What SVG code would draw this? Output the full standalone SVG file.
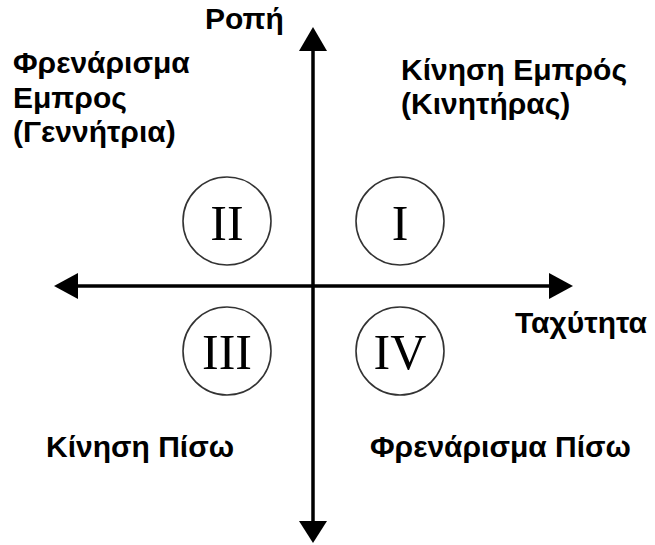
<svg xmlns="http://www.w3.org/2000/svg" width="655" height="545" viewBox="0 0 655 545">
<style>
.lbl{font-family:"Liberation Sans",Arial,sans-serif;font-weight:bold;font-size:30px;fill:#000}
.num{font-family:"Liberation Serif","Times New Roman",serif;font-size:50px;fill:#000;text-anchor:middle}
.circ{fill:none;stroke:#333;stroke-width:1.6}
.axis{stroke:#000;stroke-width:3.5;fill:none}
</style>
<rect width="655" height="545" fill="#fff"/>
<g id="connectors">
<line class="axis" x1="313" y1="48" x2="313" y2="524"/>
<line class="axis" x1="76" y1="286" x2="551" y2="286"/>
<polygon points="313,27 299,51 327,51" fill="#000"/>
<polygon points="313,543 299,521 327,521" fill="#000"/>
<polygon points="54,286 78,273 78,299" fill="#000"/>
<polygon points="573,286 549,273 549,299" fill="#000"/>
</g>
<g id="q2"><circle class="circ" cx="227" cy="221" r="44"/><text class="num" x="227" y="240">II</text></g>
<g id="q1"><circle class="circ" cx="400" cy="221" r="44"/><text class="num" x="400" y="240">I</text></g>
<g id="q3"><circle class="circ" cx="227" cy="351" r="44"/><text class="num" x="227" y="369">III</text></g>
<g id="q4"><circle class="circ" cx="400" cy="351" r="44"/><text class="num" x="400" y="369">IV</text></g>
<g id="label-ropi"><text class="lbl" x="205" y="29">Ροπή</text></g>
<g id="label-tax"><text class="lbl" x="515" y="333">Ταχύτητα</text></g>
<g id="label-q2"><text class="lbl" x="13" y="73">Φρενάρισμα</text><text class="lbl" x="13" y="108">Εμπρος</text><text class="lbl" x="13" y="142">(Γεννήτρια)</text></g>
<g id="label-q1"><text class="lbl" x="401" y="80">Κίνηση Εμπρός</text><text class="lbl" x="401" y="114">(Κινητήρας)</text></g>
<g id="label-q3"><text class="lbl" x="46" y="457">Κίνηση Πίσω</text></g>
<g id="label-q4"><text class="lbl" x="370" y="457">Φρενάρισμα Πίσω</text></g>
</svg>
